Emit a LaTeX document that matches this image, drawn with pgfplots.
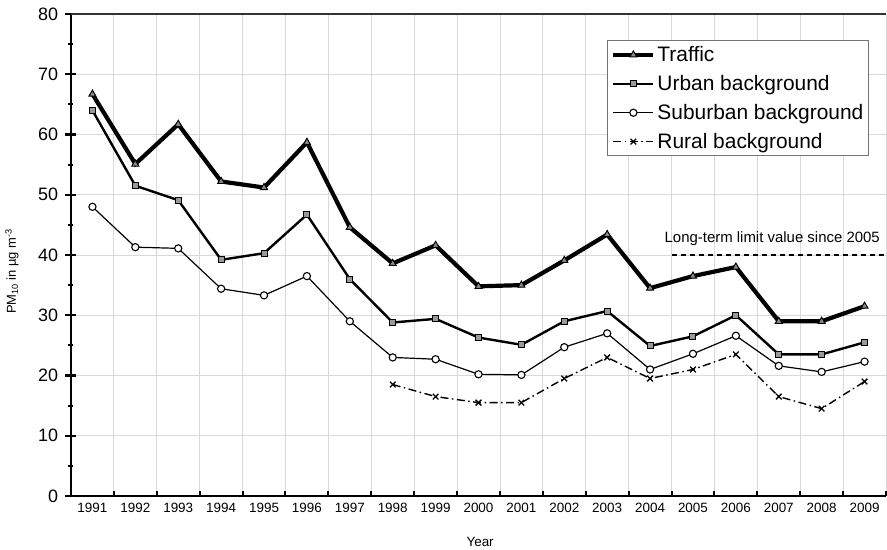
\documentclass[border=0pt]{standalone}
\usepackage{pgfplots}
\pgfplotsset{compat=1.18}
\usepackage{fontspec}
\setmainfont{Liberation Sans}
\begin{document}
\begin{tikzpicture}
\begin{axis}[
  at={(0,0)}, anchor=south west,
  scale only axis, width=815bp, height=482bp,
  xmin=0.5, xmax=19.5, ymin=0, ymax=80,
  axis x line*=bottom, axis y line*=left,
  axis line style={line width=2.4bp, black, -},
  xtick={1,...,19},
  xticklabels={1991,1992,1993,1994,1995,1996,1997,1998,1999,2000,2001,2002,2003,2004,2005,2006,2007,2008,2009},
  minor xtick={0.5,1.5,...,19.5},
  ytick={0,10,...,80},
  minor ytick={5,15,...,75},
  xmajorgrids=false, xminorgrids=true, ymajorgrids=true,
  grid style={line width=0.9bp, black!15},
  minor grid style={line width=0.9bp, black!15},
  major x tick style={draw=none},
  minor x tick style={line width=2bp, black},
  minor tick length=5bp,
  major tick length=11bp,
  y tick style={line width=2bp, black},
  ytick align=center,
  minor y tick style={line width=2bp, black},
  /pgf/number format/assume math mode=true,
  xticklabel style={font=\fontsize{13.5}{15}\selectfont, yshift=-4bp},
  yticklabel style={font=\fontsize{18}{20}\selectfont, xshift=-4bp},
  xlabel={Year},
  ylabel={PM\textsubscript{10} in µg m\textsuperscript{-3}},
  xlabel style={at={(axis description cs:0.502,0)}, anchor=center, yshift=-46bp, font=\fontsize{13.5}{15}\selectfont},
  ylabel style={at={(axis description cs:-0.0724,0.466)}, anchor=center, font=\fontsize{13}{15}\selectfont},
  legend cell align=left,
  legend style={at={(axis description cs:0.658,0.946)}, anchor=north west,
    draw=black!55, line width=1bp, fill=white,
    font=\fontsize{21}{23}\selectfont,
    row sep=8.3bp, inner xsep=3.5bp, inner ysep=4bp,
    /tikz/every even column/.append style={column sep=3bp}},
  legend image code/.code={%
    \draw[mark repeat=2,mark phase=2] plot coordinates {(0bp,0bp) (20bp,0bp) (40bp,0bp)};},
  clip=false,
]
\addplot[black, line width=4.2bp, mark=triangle*, mark size=4bp,
  mark options={solid, line width=1bp, fill=black!45}]
  coordinates {(1,66.7) (2,55.1) (3,61.7) (4,52.2) (5,51.2) (6,58.7) (7,44.6) (8,38.6) (9,41.6) (10,34.8) (11,35.0) (12,39.1) (13,43.4) (14,34.5) (15,36.5) (16,38.0) (17,29.0) (18,29.0) (19,31.5)};
\addlegendentry{Traffic}
\addplot[black, line width=2.4bp, mark=square*, mark size=3bp,
  mark options={solid, line width=1bp, fill=black!40}]
  coordinates {(1,64.0) (2,51.5) (3,49.1) (4,39.2) (5,40.3) (6,46.7) (7,36.0) (8,28.8) (9,29.4) (10,26.3) (11,25.1) (12,29.0) (13,30.7) (14,24.9) (15,26.5) (16,30.0) (17,23.5) (18,23.5) (19,25.5)};
\addlegendentry{Urban background}
\addplot[black, line width=1.2bp, mark=*, mark size=3.6bp,
  mark options={solid, line width=1.1bp, fill=white}]
  coordinates {(1,48.0) (2,41.3) (3,41.1) (4,34.4) (5,33.3) (6,36.5) (7,29.0) (8,23.0) (9,22.7) (10,20.2) (11,20.1) (12,24.7) (13,27.0) (14,21.0) (15,23.6) (16,26.6) (17,21.6) (18,20.6) (19,22.3)};
\addlegendentry{Suburban background}
\addplot[black, line width=1.4bp, dash pattern=on 8bp off 3.5bp on 1.5bp off 3.5bp, mark=x, mark size=4bp,
  mark options={solid, line width=1.3bp}]
  coordinates {(8,18.5) (9,16.5) (10,15.5) (11,15.5) (12,19.5) (13,23.0) (14,19.5) (15,21.0) (16,23.5) (17,16.5) (18,14.5) (19,19.0)};
\addlegendentry{Rural background}
\addplot[black, line width=2.2bp, dash pattern=on 5bp off 4bp, forget plot]
  coordinates {(14.5,40) (19.5,40)};
\draw[black!80, line width=1.5bp] (axis cs:0.5,80) -- (axis cs:19.5,80);
\node[anchor=south east, font=\fontsize{15}{17}\selectfont, inner sep=0pt] at (axis cs:19.36,41.6) {Long-term limit value since 2005};
\end{axis}
\pgfresetboundingbox
\path[use as bounding box] (-71bp,-54bp) rectangle (816bp,496bp);
\end{tikzpicture}
\end{document}
